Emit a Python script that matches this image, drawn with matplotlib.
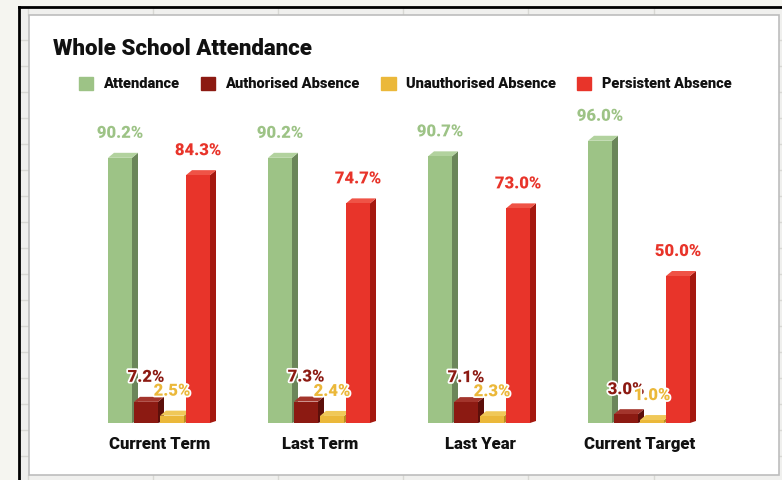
import matplotlib.pyplot as plt
import matplotlib.patheffects as pe
from matplotlib.patches import Rectangle, Polygon
from matplotlib.lines import Line2D

plt.rcParams['font.family'] = ['Roboto', 'DejaVu Sans']

categories = ["Current Term", "Last Term", "Last Year", "Current Target"]
series = ["Attendance", "Authorised Absence", "Unauthorised Absence", "Persistent Absence"]
attendance = [90.2, 90.2, 90.7, 96.0]
authorised = [7.2, 7.3, 7.1, 3.0]
unauthorised = [2.5, 2.4, 2.3, 1.0]
persistent = [84.3, 74.7, 73.0, 50.0]
values = [attendance, authorised, unauthorised, persistent]

front = ["#9dc386", "#8c1a12", "#ebb83a", "#e8342a"]
side = ["#6b865a", "#5c0f0a", "#b98c22", "#a5180f"]
top = ["#b2d29e", "#a3352c", "#f0c858", "#ef5346"]
label_col = ["#9dc386", "#8c1a12", "#ebb83a", "#e8342a"]

W, H = 782, 480
fig = plt.figure(figsize=(W / 100, H / 100), dpi=100)
fig.patch.set_facecolor("#f5f5f0")


def fx(px):
    return px / W


def fy(py):
    return 1 - py / H


# spreadsheet backdrop (kept behind the axes)
grid = "#d8d8d4"
bg = dict(zorder=-5)
fig.add_artist(Rectangle((fx(20), 0), fx(W - 20), fy(7), color="#f0f0ee", lw=0, **bg))
for yy in range(40, 480, 26):
    fig.add_artist(Line2D([fx(20), fx(29)], [fy(yy), fy(yy)], color=grid, lw=1, **bg))
    fig.add_artist(Line2D([fx(779), fx(782)], [fy(yy), fy(yy)], color=grid, lw=1, **bg))
for xx in [28, 153, 278, 403, 528, 654]:
    fig.add_artist(Line2D([fx(xx), fx(xx)], [fy(7), fy(15)], color=grid, lw=1, **bg))
    fig.add_artist(Line2D([fx(xx), fx(xx)], [fy(475), fy(480)], color=grid, lw=1, **bg))
fig.add_artist(Line2D([fx(19), fx(782)], [fy(7), fy(7)], color="black", lw=2, zorder=-4))
fig.add_artist(Line2D([fx(19), fx(19)], [fy(7), 0], color="black", lw=2, zorder=-4))
fig.add_artist(Rectangle((fx(29), fy(475)), fx(750), (475 - 15) / H,
                         facecolor="white", edgecolor="#bdbdbd", lw=1.2, zorder=-3))

ax = fig.add_axes([fx(80), 57 / H, 640 / W, 294 / H])
ax.set_xlim(-0.5, 3.5)
ax.set_ylim(0, 100)
ax.axis("off")

px_x = 1 / 160
px_y = 100 / 294
slot = 26 * px_x
w = 24 * px_x
dx = 6 * px_x
dy = 5 * px_y

for i, vals in enumerate(values):
    lefts = [g + (i - 2) * slot for g in range(len(categories))]
    z = 2 + i
    ax.bar(lefts, vals, width=w, align="edge", color=front[i], zorder=z + 0.2, lw=0)
    for x0, h in zip(lefts, vals):
        ax.add_patch(Polygon([(x0 + w, 0), (x0 + w + dx, dy * 0.4), (x0 + w + dx, h + dy), (x0 + w, h)],
                             closed=True, color=side[i], lw=0, zorder=z))
        ax.add_patch(Polygon([(x0, h), (x0 + dx, h + dy), (x0 + w + dx, h + dy), (x0 + w, h)],
                             closed=True, color=top[i], lw=0, zorder=z + 0.1))
        ax.annotate(f"{h:.1f}%", (x0 + w / 2, h), xytext=(0, 25), textcoords="offset pixels",
                    ha="center", va="center", fontsize=12, fontweight=900,
                    color=label_col[i], zorder=10, annotation_clip=False,
                    path_effects=[pe.withStroke(linewidth=2.5, foreground="white")])

for g, name in enumerate(categories):
    ax.text(g, -21 * px_y, name, ha="center", va="center",
            fontsize=12, fontweight=900, color="#111111")

fig.text(fx(53), fy(49), "Whole School Attendance", ha="left", va="center",
         fontsize=16, fontweight=900, color="#111111")

handles = [Rectangle((0, 0), 1, 1, color=c) for c in front]
leg = fig.legend(handles, series, loc="center", bbox_to_anchor=(fx(405), fy(84)), ncol=4,
                 frameon=False, handlelength=1.0, handleheight=1.0, handletextpad=0.7,
                 columnspacing=1.45, prop={"weight": 900, "size": 10.5})
for t in leg.get_texts():
    t.set_color("#111111")

fig.savefig("out.png", dpi=100, facecolor=fig.get_facecolor())
